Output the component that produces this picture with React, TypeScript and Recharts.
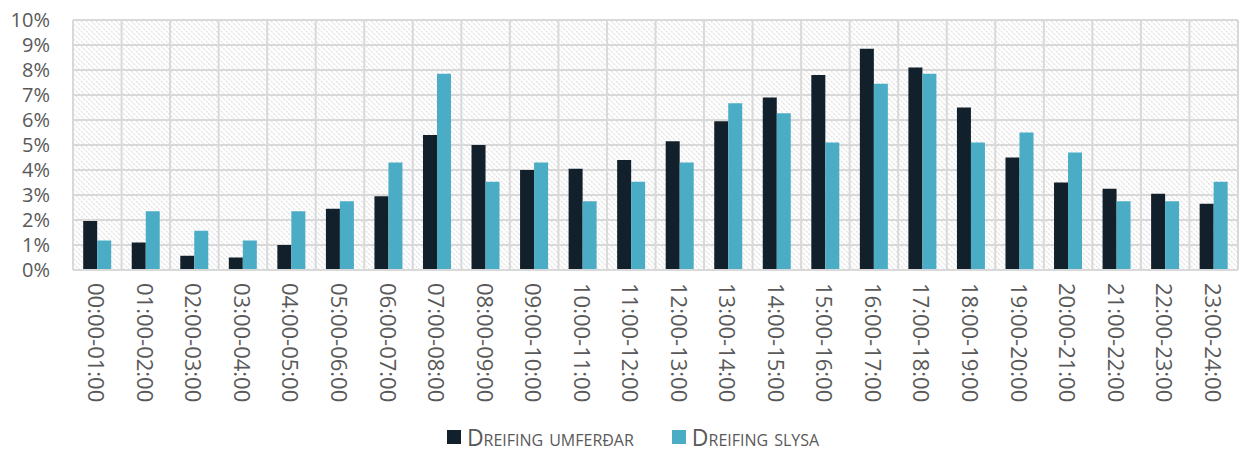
import {
  BarChart,
  Bar,
  XAxis,
  YAxis,
  CartesianGrid,
  Legend,
} from "recharts";

const hours = [
  "00:00-01:00", "01:00-02:00", "02:00-03:00", "03:00-04:00",
  "04:00-05:00", "05:00-06:00", "06:00-07:00", "07:00-08:00",
  "08:00-09:00", "09:00-10:00", "10:00-11:00", "11:00-12:00",
  "12:00-13:00", "13:00-14:00", "14:00-15:00", "15:00-16:00",
  "16:00-17:00", "17:00-18:00", "18:00-19:00", "19:00-20:00",
  "20:00-21:00", "21:00-22:00", "22:00-23:00", "23:00-24:00",
];

// Dreifing umferðar (%)
const umferdar = [
  1.96, 1.1, 0.57, 0.5, 1.0, 2.45, 2.95, 5.4, 5.0, 4.0, 4.05, 4.4,
  5.15, 5.95, 6.9, 7.8, 8.85, 8.1, 6.5, 4.5, 3.5, 3.25, 3.05, 2.65,
];

// Dreifing slysa (%)
const slysa = [
  1.18, 2.35, 1.57, 1.18, 2.35, 2.75, 4.3, 7.85, 3.53, 4.3, 2.75, 3.53,
  4.3, 6.67, 6.27, 5.1, 7.45, 7.85, 5.1, 5.5, 4.7, 2.75, 2.75, 3.53,
];

const yTicks = [0, 1, 2, 3, 4, 5, 6, 7, 8, 9, 10];

const seriesNames = ["Dreifing umferðar", "Dreifing slysa"];
const seriesColors = ["#11202a", "#4bacc6"];

const data = hours.map((hour, i) => ({
  hour,
  umferdar: umferdar[i],
  slysa: slysa[i],
}));

const FONT = "'Open Sans', 'Noto Sans', sans-serif";
const GREY = "#595959";
const GRID = "#d9d9d9";

function HourTick({ x, y, payload }: any) {
  return (
    <text
      x={x}
      y={y}
      transform={`rotate(90, ${x}, ${y})`}
      textAnchor="start"
      dominantBaseline="central"
      fill={GREY}
      fontSize={22}
      fontFamily={FONT}
    >
      {payload.value}
    </text>
  );
}

function LegendContent() {
  return (
    <div
      style={{
        display: "flex",
        justifyContent: "center",
        gap: 38,
        fontFamily: FONT,
        fontSize: 23,
        lineHeight: "26px",
        color: GREY,
        fontVariant: "small-caps",
        paddingLeft: 28,
      }}
    >
      {seriesNames.map((name, i) => (
        <div key={name} style={{ display: "flex", alignItems: "center" }}>
          <span
            style={{
              width: 14,
              height: 14,
              background: seriesColors[i],
              marginRight: 6,
              display: "inline-block",
            }}
          />
          <span>{name}</span>
        </div>
      ))}
    </div>
  );
}

export default function App() {
  return (
    <div style={{ position: "absolute", left: 0, top: 0 }}>
      <svg width={0} height={0} style={{ position: "absolute" }}>
        <defs>
          <pattern
            id="hatch"
            patternUnits="userSpaceOnUse"
            width={5}
            height={5}
          >
            <rect width={5} height={5} fill="#ffffff" />
            <path
              d="M-1,-1 L6,6 M-1,4 L1,6 M4,-1 L6,1"
              stroke="#e2e2e2"
              strokeWidth={1.2}
              strokeDasharray="2 1"
            />
          </pattern>
        </defs>
      </svg>
      <BarChart
        width={1240}
        height={452}
        data={data}
        margin={{ top: 20, right: 2, bottom: 0, left: 0 }}
        barCategoryGap="21%"
        barGap={0}
      >
        <CartesianGrid
          fill="url(#hatch)"
          stroke={GRID}
          strokeWidth={2}
          verticalCoordinatesGenerator={({ offset }: any) =>
            hours
              .map((_, i) => offset.left + (i * offset.width) / hours.length)
              .concat(offset.left + offset.width)
          }
        />
        <XAxis
          dataKey="hour"
          interval={0}
          tickLine={false}
          tickSize={0}
          tickMargin={13}
          axisLine={{ stroke: GRID, strokeWidth: 2 }}
          height={148}
          tick={<HourTick />}
        />
        <YAxis
          width={73}
          domain={[0, 10]}
          ticks={yTicks}
          interval={0}
          tickFormatter={(v) => `${v}%`}
          axisLine={false}
          tickLine={false}
          tickSize={0}
          tickMargin={23}
          tick={{ fill: GREY, fontSize: 20, fontFamily: FONT }}
        />
        <Legend
          verticalAlign="bottom"
          height={34}
          wrapperStyle={{ bottom: -6 }}
          content={<LegendContent />}
        />
        <Bar
          dataKey="umferdar"
          name={seriesNames[0]}
          fill={seriesColors[0]}
          isAnimationActive={false}
        />
        <Bar
          dataKey="slysa"
          name={seriesNames[1]}
          fill={seriesColors[1]}
          isAnimationActive={false}
        />
      </BarChart>
    </div>
  );
}
